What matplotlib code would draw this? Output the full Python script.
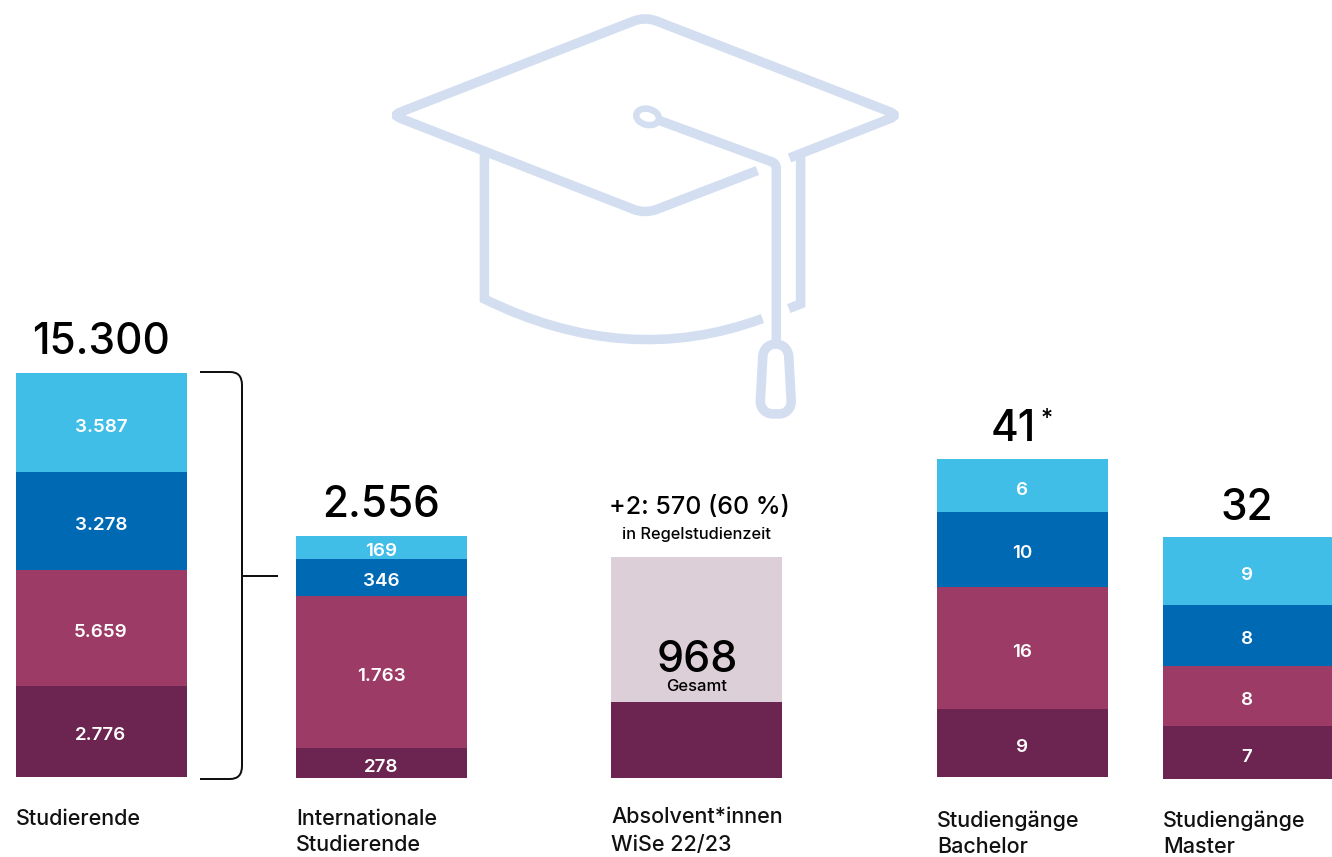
import matplotlib
matplotlib.use("Agg")
import matplotlib.pyplot as plt
from matplotlib.path import Path
from matplotlib.patches import PathPatch, Ellipse

plt.rcParams['font.family'] = ['Inter', 'DejaVu Sans']

# ---- data: the source chart's segments are not drawn to scale, so drawn lengths are read separately
categories = [["Studierende"], ["Internationale", "Studierende"], ["Absolvent*innen", "WiSe 22/23"],
              ["Studiengänge", "Bachelor"], ["Studiengänge", "Master"]]
totals = ["15.300", "2.556", "", "41", "32"]
studierende_labels = ["2.776", "5.659", "3.278", "3.587"]
international_labels = ["278", "1.763", "346", "169"]
absolventen_labels = ["", ""]
bachelor_labels = ["9", "16", "10", "6"]
master_labels = ["7", "8", "8", "9"]
studierende_lengths = [91, 116, 98, 99]
international_lengths = [30, 152, 37, 23]
absolventen_lengths = [76, 145]
bachelor_lengths = [68, 122, 75, 53]
master_lengths = [53, 60, 61, 68]

# ---- layout and style
W, H = 1332, 857
PX = 0.72  # pixels to points at dpi 100
DARK, MAGENTA, BLUE, SKY, PALE = "#6C2450", "#9C3C66", "#0069B4", "#41BEE8", "#DDCFD7"
CAP = "#D3DEF1"
stack_colors = [DARK, MAGENTA, BLUE, SKY]
lefts = [16, 296, 611, 937, 1163]
widths = [171, 171, 171, 171, 169]
baselines = [777, 778, 778, 777, 779]
total_xy = [(100.5, 354), (381, 517), None, (1013, 441), (1247, 520)]
cat_y = [[825], [825, 851], [823, 851], [827, 853], [827, 853]]

fig = plt.figure(figsize=(W / 100, H / 100), dpi=100)
ax = fig.add_axes([0, 0, 1, 1])
ax.set_xlim(0, W)
ax.set_ylim(H, 0)
ax.axis("off")


def zx(x):
    return 380 + x / 2.96


def zy(y):
    return y / 3.02


def stroke(segments, lw=9.5, color=CAP, capstyle="butt"):
    verts, codes = [], []
    for kind, pts in segments:
        pts = [(zx(a), zy(b)) for a, b in pts]
        verts += pts
        codes += {"M": [Path.MOVETO], "L": [Path.LINETO], "Q": [Path.CURVE3] * 2, "C": [Path.CURVE4] * 3}[kind]
    ax.add_patch(PathPatch(Path(verts, codes), fc="none", ec=color, lw=lw * PX, capstyle=capstyle, joinstyle="miter"))


# graduation cap icon
stroke([("M", [(1117, 515)]), ("L", [(820, 632)]), ("Q", [(785, 646), (750, 632)]), ("L", [(62, 358)]),
        ("Q", [(36, 348), (62, 338)]), ("L", [(750, 64)]), ("Q", [(785, 50), (820, 64)]),
        ("L", [(1510, 338)]), ("Q", [(1534, 348), (1510, 358)]), ("L", [(1212, 477)])])
stroke([("M", [(309, 460)]), ("L", [(309, 903)]), ("Q", [(730, 1114), (1132, 962)])])
stroke([("M", [(1245, 470)]), ("L", [(1245, 918)]), ("L", [(1210, 932)])])
stroke([("M", [(830, 365)]), ("L", [(1158, 488)]), ("Q", [(1173, 493), (1173, 510)]), ("L", [(1173, 1035)])])
stroke([("M", [(1133, 1078)]), ("C", [(1135, 1026), (1207, 1026), (1210, 1078)]), ("L", [(1217, 1208)]),
        ("C", [(1219, 1235), (1200, 1250), (1182, 1250)]), ("L", [(1162, 1250)]),
        ("C", [(1144, 1250), (1124, 1235), (1126, 1208)]), ("L", [(1133, 1078)])])
ax.add_patch(Ellipse((zx(792), zy(353)), 23, 16, angle=14, fc="none", ec=CAP, lw=6.5 * PX))

# bracket
BR = "#111111"
ax.add_patch(PathPatch(Path([(200, 372), (230, 372), (242, 372), (242, 385), (242, 766), (242, 779), (230, 779), (200, 779)],
                            [Path.MOVETO, Path.LINETO, Path.CURVE3, Path.CURVE3, Path.LINETO, Path.CURVE3, Path.CURVE3, Path.LINETO]),
                       fc="none", ec=BR, lw=2 * PX))
ax.plot([242, 278], [575.5, 575.5], color=BR, lw=2 * PX, solid_capstyle="butt")

# stacks
all_lengths = [studierende_lengths, international_lengths, absolventen_lengths, bachelor_lengths, master_lengths]
all_labels = [studierende_labels, international_labels, absolventen_labels, bachelor_labels, master_labels]
for i, (lengths, labels) in enumerate(zip(all_lengths, all_labels)):
    bottom = baselines[i]
    colors = [DARK, PALE] if len(lengths) == 2 else stack_colors
    cx = lefts[i] + widths[i] / 2
    for length, label, color in zip(lengths, labels, colors):
        ax.bar(lefts[i], -length, width=widths[i], bottom=bottom, align="edge", color=color, lw=0)
        ax.text(cx - 0.5, bottom - length / 2 + 2.5, label, color="white", fontsize=13.5, fontweight="semibold",
                ha="center", va="center_baseline")
        bottom -= length
    if total_xy[i]:
        ax.text(total_xy[i][0], total_xy[i][1], totals[i], color="black", fontsize=30.5, fontweight="medium",
                ha="center", va="baseline")
    for line, y in zip(categories[i], cat_y[i]):
        ax.text(lefts[i], y, line, color="#111111", fontsize=15.5, fontweight="medium", ha="left", va="baseline")

ax.text(1047, 425, "*", color="black", fontsize=17, fontweight="medium", ha="center", va="baseline")
ax.text(699, 514, "+2: 570 (60 %)", color="black", fontsize=18, fontweight="medium", ha="center", va="baseline")
ax.text(697, 539, "in Regelstudienzeit", color="black", fontsize=11.8, fontweight="medium", ha="center", va="baseline")
ax.text(697, 672, "968", color="black", fontsize=31, fontweight="medium", ha="center", va="baseline")
ax.text(697, 691, "Gesamt", color="black", fontsize=12, fontweight="medium", ha="center", va="baseline")

fig.savefig("out.png", dpi=100, facecolor="white")
